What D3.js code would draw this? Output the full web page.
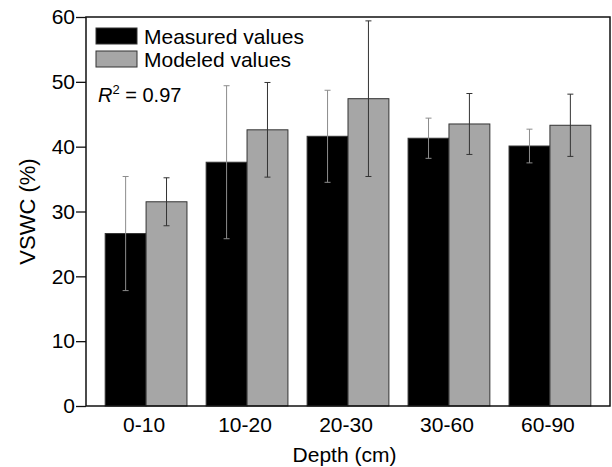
<!DOCTYPE html>
<html>
<head>
<meta charset="utf-8">
<script src="https://cdn.jsdelivr.net/npm/d3@7"></script>
<style>
  body { margin: 0; background: #fff; }
  text { font-family: "Liberation Sans", Arial, sans-serif; fill: #000; }
</style>
</head>
<body>
<div id="chart"></div>
<script>
// data
var depths = ['0-10', '10-20', '20-30', '30-60', '60-90'];
var measured = [26.6, 37.6, 41.6, 41.3, 40.1];
var measuredSd = [8.8, 11.8, 7.1, 3.1, 2.6];
var modeled = [31.5, 42.6, 47.4, 43.5, 43.3];
var modeledSd = [3.7, 7.3, 12.0, 4.7, 4.8];
var yTicks = [0, 10, 20, 30, 40, 50, 60];

var margin = {top: 17, right: 2, bottom: 61, left: 86},
    width = 612 - margin.left - margin.right,
    height = 467 - margin.top - margin.bottom;

var fontSize = 21;

var svg = d3.select('#chart')
    .append('svg')
        .attr('width', 612)
        .attr('height', 467)
    .append('g')
        .attr('transform', 'translate(' + margin.left + ',' + margin.top + ')');

var x = d3.scaleBand()
    .domain(depths)
    .range([0, width])
    .paddingInner(0.19)
    .paddingOuter(0.19);

var xSub = d3.scaleBand()
    .domain(['measured', 'modeled'])
    .range([0, x.bandwidth()]);

var y = d3.scaleLinear()
    .domain([0, 60])
    .range([height, 0]);

// bars
var series = [
    {key: 'measured', vals: measured, sd: measuredSd, fill: '#000', errColor: '#8c8c8c'},
    {key: 'modeled', vals: modeled, sd: modeledSd, fill: '#a6a6a6', errColor: '#333'}
];

series.forEach(function(s) {
    svg.selectAll('.bar-' + s.key)
        .data(depths)
        .enter()
        .append('rect')
        .attr('x', function(d) { return x(d) + xSub(s.key); })
        .attr('y', function(d, i) { return y(s.vals[i]); })
        .attr('width', xSub.bandwidth())
        .attr('height', function(d, i) { return height - y(s.vals[i]); })
        .attr('fill', s.fill)
        .attr('stroke', '#333')
        .attr('stroke-width', 1);
});

// error bars
var capW = 6;
series.forEach(function(s) {
    var g = svg.selectAll('.err-' + s.key)
        .data(depths)
        .enter()
        .append('g')
        .attr('stroke', s.errColor)
        .attr('stroke-width', 1)
        .attr('transform', function(d) {
            return 'translate(' + (x(d) + xSub(s.key) + xSub.bandwidth() / 2) + ',0)';
        });
    g.append('line')
        .attr('x1', 0).attr('x2', 0)
        .attr('y1', function(d, i) { return y(s.vals[i] - s.sd[i]); })
        .attr('y2', function(d, i) { return y(s.vals[i] + s.sd[i]); });
    g.append('line')
        .attr('x1', -capW / 2).attr('x2', capW / 2)
        .attr('y1', function(d, i) { return y(s.vals[i] + s.sd[i]); })
        .attr('y2', function(d, i) { return y(s.vals[i] + s.sd[i]); });
    g.append('line')
        .attr('x1', -capW / 2).attr('x2', capW / 2)
        .attr('y1', function(d, i) { return y(s.vals[i] - s.sd[i]); })
        .attr('y2', function(d, i) { return y(s.vals[i] - s.sd[i]); });
});

// frame
svg.append('rect')
    .attr('x', 0).attr('y', 0)
    .attr('width', width).attr('height', height)
    .attr('fill', 'none')
    .attr('stroke', '#111')
    .attr('stroke-width', 1.5);

// Y axis
var yAxis = svg.append('g')
    .call(d3.axisLeft(y).tickValues(yTicks).tickSize(10).tickPadding(1));
yAxis.select('.domain').remove();
yAxis.selectAll('line').attr('stroke', '#111').attr('stroke-width', 1.3);
yAxis.selectAll('text')
    .attr('font-size', fontSize)
    .style('font-family', '"Liberation Sans", Arial, sans-serif');

// X axis
var xAxis = svg.append('g')
    .attr('transform', 'translate(0,' + height + ')')
    .call(d3.axisBottom(x).tickSize(0).tickPadding(11));
xAxis.select('.domain').remove();
xAxis.selectAll('text')
    .attr('x', -2)
    .attr('font-size', fontSize)
    .style('font-family', '"Liberation Sans", Arial, sans-serif');

// axis titles
svg.append('text')
    .attr('transform', 'translate(' + (width / 2 - 3.5) + ',' + (height + 55.5) + ')')
    .style('text-anchor', 'middle')
    .attr('font-size', fontSize)
    .text('Depth (cm)');

svg.append('text')
    .attr('transform', 'translate(' + (-51) + ',' + (height / 2) + ') rotate(-90)')
    .style('text-anchor', 'middle')
    .attr('font-size', 22)
    .text('VSWC (%)');

// legend
var legendKeys = ['Measured values', 'Modeled values'];
var legendFill = ['#000', '#a6a6a6'];

var legend = svg.selectAll('.legend')
    .data(legendKeys)
    .enter()
    .append('g')
    .attr('class', 'legend')
    .attr('transform', function(d, i) { return 'translate(10,' + (11 + i * 23) + ')'; });

legend.append('rect')
    .attr('width', 41)
    .attr('height', 16)
    .attr('fill', function(d, i) { return legendFill[i]; })
    .attr('stroke', '#333')
    .attr('stroke-width', 1);

legend.append('text')
    .attr('x', 48)
    .attr('y', 16)
    .attr('font-size', fontSize)
    .text(function(d) { return d; });

// R squared
var r2 = svg.append('text')
    .attr('x', 12)
    .attr('y', 85)
    .attr('font-size', 20);
r2.append('tspan').attr('font-style', 'italic').text('R');
r2.append('tspan').attr('font-size', 13).attr('dy', -8).text('2');
r2.append('tspan').attr('dy', 8).text(' = 0.97');
</script>
</body>
</html>
